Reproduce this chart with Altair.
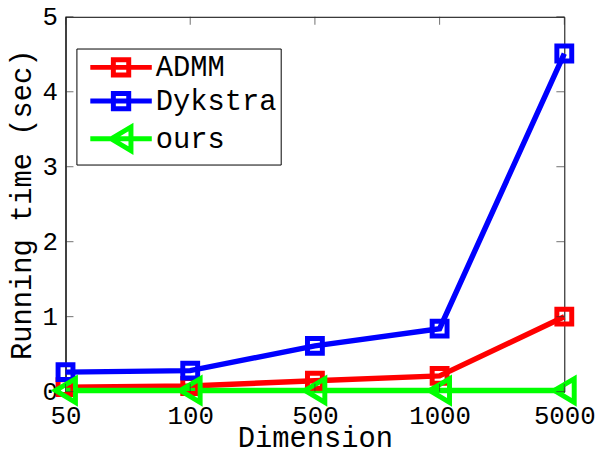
import altair as alt
import pandas as pd

dims = ["50", "100", "500", "1000", "5000"]
admm = [0.06, 0.075, 0.145, 0.21, 1.0]
dykstra = [0.26, 0.28, 0.61, 0.84, 4.51]
ours = [0.015, 0.015, 0.015, 0.015, 0.015]
methods = ["ADMM", "Dykstra", "ours"]
colors = ["#ff0000", "#0000ff", "#00ff00"]
y_ticks = [0, 1, 2, 3, 4, 5]

rows = []
for m, vals in zip(methods, [admm, dykstra, ours]):
    for d, v in zip(dims, vals):
        rows.append({"Dimension": d, "time": v, "method": m})
df = pd.DataFrame(rows)

FONT = "Liberation Mono"

sq = "M-0.6,-0.6H0.6V0.6H-0.6Z"
tri = "M-0.8,0L0.8,-0.95L0.8,0.95Z"
mark_paths = [sq, sq, tri]
leg_sq = "M-2.48,0H2.48M-0.62,-0.62H0.62V0.62H-0.62Z"
leg_tri = "M-2.48,0H2.48M-0.8,0L0.8,-0.95L0.8,0.95Z"
legend_paths = [leg_sq, leg_sq, leg_tri]

x_scale = alt.Scale(type="point", padding=0, domain=dims)
y_scale = alt.Scale(domain=[0, 5], nice=False)

x_enc = alt.X("Dimension:O", sort=dims, scale=x_scale,
              axis=alt.Axis(title="Dimension", labelAngle=0, labelFont=FONT,
                            labelFontSize=26, labelColor="black", labelPadding=11,
                            ticks=False, domainColor="black",
                            titleFont=FONT, titleFontSize=29, titleFontWeight="normal",
                            titleColor="black", titleBaseline="alphabetic", titleY=55,
                            labelOverlap=False))
y_enc = alt.Y("time:Q", scale=y_scale,
              axis=alt.Axis(title="Running time (sec)", values=y_ticks,
                            format="d", labelFont=FONT, labelFontSize=26,
                            labelColor="black", labelPadding=8, ticks=False,
                            grid=False, domainColor="black", labelOverlap=False,
                            titleFont=FONT, titleFontSize=29, titleFontWeight="normal",
                            titleColor="black", titleX=-44, titleBaseline="middle",
                            titleAngle=270))

# inward ticks (MATLAB box style)
tl_df = pd.DataFrame({"time": y_ticks, "Dimension": dims[0]})
tr_df = pd.DataFrame({"time": y_ticks, "Dimension": dims[-1]})
tt_df = pd.DataFrame({"Dimension": dims, "time": y_ticks[-1]})
tb_df = pd.DataFrame({"Dimension": dims, "time": y_ticks[0]})

TC = "#333333"
tick_l = alt.Chart(tl_df).mark_tick(size=8, thickness=1, xOffset=4, color=TC).encode(x=x_enc, y=y_enc)
tick_r = alt.Chart(tr_df).mark_tick(size=8, thickness=1, xOffset=-4, color=TC).encode(x=x_enc, y=y_enc)
tick_t = alt.Chart(tt_df).mark_tick(size=8, thickness=1, yOffset=4, orient="vertical",
                                    color=TC).encode(x=x_enc, y=y_enc)
tick_b = alt.Chart(tb_df).mark_tick(size=8, thickness=1, yOffset=-4, orient="vertical",
                                    color=TC).encode(x=x_enc, y=y_enc)

lines = alt.Chart(df).mark_line(strokeWidth=5.5).encode(
    x=x_enc, y=y_enc,
    color=alt.Color("method:N", scale=alt.Scale(domain=methods, range=colors), legend=None),
)

points = alt.Chart(df).mark_point(filled=False, size=625, strokeWidth=5, opacity=1).encode(
    x=x_enc, y=y_enc,
    color=alt.Color("method:N", scale=alt.Scale(domain=methods, range=colors), legend=None),
    shape=alt.Shape("method:N", scale=alt.Scale(domain=methods, range=mark_paths), legend=None),
)

legend_layer = alt.Chart(df).mark_point(filled=False, size=0, opacity=1).encode(
    x=x_enc, y=y_enc,
    color=alt.Color("method:N", scale=alt.Scale(domain=methods, range=colors),
                    legend=alt.Legend(title=None, orient="none", legendX=11, legendY=32,
                                      labelFont=FONT, labelFontSize=29, labelColor="black",
                                      symbolSize=625, symbolStrokeWidth=5,
                                      symbolOffset=26, labelOffset=20,
                                      padding=4, rowPadding=-2,
                                      strokeColor="black", fillColor="white",
                                      symbolOpacity=1)),
    shape=alt.Shape("method:N", scale=alt.Scale(domain=methods, range=legend_paths)),
)

chart = alt.layer(lines, points, legend_layer, tick_l, tick_r, tick_t, tick_b).resolve_scale(
    color="independent", shape="independent"
).properties(
    width=503, height=378,
    autosize=alt.AutoSizeParams(type="none"),
    padding={"left": 58, "top": 7, "right": 36, "bottom": 58},
    background="white",
).configure_view(stroke="black", strokeWidth=1).configure_axis(
    domainWidth=1
)

chart.save("out.html", embed_options={"renderer": "svg", "actions": False})
